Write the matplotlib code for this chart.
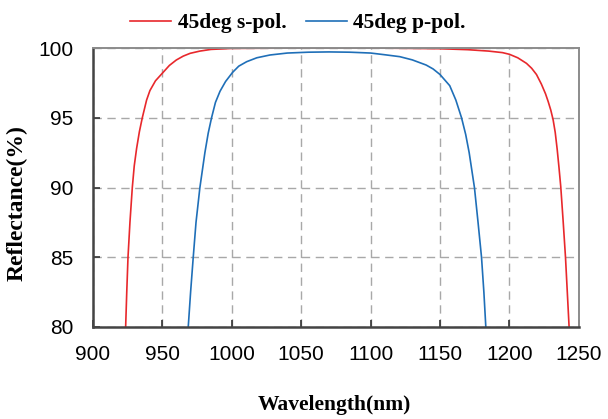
import matplotlib
matplotlib.use("Agg")
import matplotlib.pyplot as plt

# ------------------------------------------------------------------ #
#  Data
# ------------------------------------------------------------------ #
s_wl = [923.5, 924.3, 925.2, 926.6, 928.3, 929.7, 931.4, 933.4, 935.5, 938.6,
        941, 945, 950, 955, 960, 965, 970, 977, 985, 1000, 1050, 1100, 1150,
        1170, 1185, 1195, 1200, 1206, 1212.3, 1216, 1219.5, 1223, 1226,
        1227.9, 1229.8, 1231.5, 1233, 1234.4, 1235.7, 1237, 1238.7, 1240.4,
        1241.7, 1243]
s_refl = [80, 82.5, 85, 87.5, 90, 91.55, 92.8, 94.0, 95, 96.27,
          96.95, 97.65, 98.2, 98.75, 99.14, 99.42, 99.62, 99.78, 99.9, 99.97,
          100, 100, 99.95, 99.88, 99.78, 99.67, 99.55, 99.3, 98.9, 98.55, 98.1,
          97.42, 96.72, 96.17, 95.55, 94.85, 93.95, 92.75, 91.45, 90.05, 87.6,
          85, 82.5, 80]

p_wl = [968.6, 970.3, 972.2, 974.2, 977, 980.6, 983, 985.4, 988.2, 991.5,
        995.5, 1000.6, 1005, 1010.7, 1018, 1027.5, 1040, 1055, 1070, 1085,
        1100, 1110, 1121, 1130, 1140, 1145, 1150, 1157, 1161.4, 1165.5,
        1168.5, 1171, 1174.8, 1177.4, 1179.9, 1181.6, 1183]
p_refl = [80, 82.5, 85, 87.5, 90, 92.5, 93.9, 95, 96.1, 96.9,
          97.6, 98.26, 98.7, 99.02, 99.3, 99.5, 99.64, 99.7, 99.72, 99.7,
          99.64, 99.52, 99.38, 99.15, 98.78, 98.5, 98.1, 97.3, 96.27, 95,
          93.8, 92.5, 90, 87.5, 85, 82.5, 80]

x_ticks = [900, 950, 1000, 1050, 1100, 1150, 1200, 1250]
y_ticks = [80, 85, 90, 95, 100]

labels = ["45deg s-pol.", "45deg p-pol."]
colors = ["#e8282c", "#1f6fb8"]

tick_font = "Liberation Sans"
title_font = "Liberation Serif"

# ------------------------------------------------------------------ #
#  Plot
# ------------------------------------------------------------------ #
fig = plt.figure(figsize=(6.08, 4.19), dpi=100)
ax = fig.add_axes([0.153, 0.2196, 0.799, 0.6658])

ax.plot(s_wl, s_refl, color=colors[0], lw=1.2, label=labels[0])
ax.plot(p_wl, p_refl, color=colors[1], lw=1.2, label=labels[1])

ax.set_xlim(900, 1250)
ax.set_ylim(80, 100)
ax.set_xticks(x_ticks)
ax.set_yticks(y_ticks)
ax.grid(True, color="#a8a8a8", linestyle=(0, (6, 4)), linewidth=1.0)
ax.set_axisbelow(True)

ax.tick_params(direction="in", length=5, width=1.2, color="#333333",
               labelsize=15)
ax.tick_params(axis="x", pad=13)
ax.tick_params(axis="y", pad=14)
for lab in ax.get_xticklabels() + ax.get_yticklabels():
    lab.set_fontfamily(tick_font)

for side in ("left", "bottom"):
    ax.spines[side].set_color("#444444")
    ax.spines[side].set_linewidth(1.8)
for side in ("top", "right"):
    ax.spines[side].set_color("#8c8c8c")
    ax.spines[side].set_linewidth(1.4)

ax.set_xlabel("Wavelength(nm)", fontfamily=title_font, fontweight="bold",
              fontsize=15.5)
ax.xaxis.set_label_coords(0.497, -0.245)
ax.set_ylabel("Reflectance(%)", fontfamily=title_font, fontweight="bold",
              fontsize=17)
ax.yaxis.set_label_coords(-0.134, 0.444)

fig.legend(loc="center", bbox_to_anchor=(0.49, 0.945), ncol=2,
           frameon=False, handlelength=1.9, handletextpad=0.3,
           columnspacing=0.9,
           prop={"family": title_font, "weight": "bold", "size": 15.5})

fig.savefig("out.png", dpi=100)
plt.close(fig)
